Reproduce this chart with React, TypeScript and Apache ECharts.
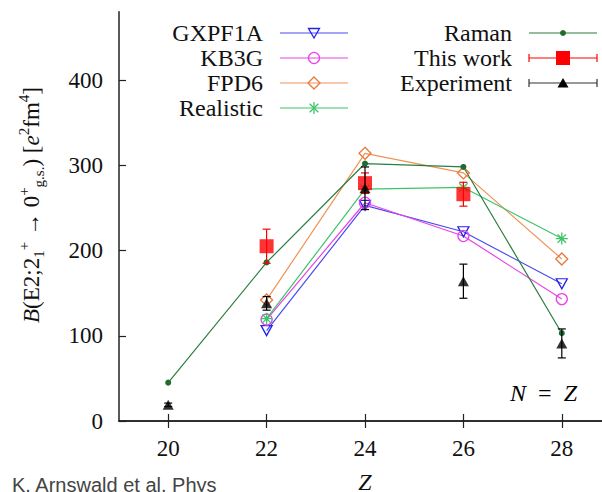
import React, { useEffect, useRef } from "react";
import * as echarts from "echarts";

// Proton number Z of the N = Z nuclei
const zValues = [20, 22, 24, 26, 28];
const xTicks = [20, 22, 24, 26, 28];
const yTicks = [0, 100, 200, 300, 400];

// Shell-model B(E2; 2+ -> 0+) values in e^2 fm^4 (null = not computed)
const gxpf1a = [null, 106, 253, 222, 161];
const kb3g = [null, 119, 256, 217, 143];
const fpd6 = [null, 142, 314, 291, 190];
const realistic = [null, 120, 272, 274, 214];
const raman = [45, 186, 302, 298, 103];

// Measured values with their uncertainties
const thisWorkZ = [22, 24, 26];
const thisWork = [205, 279, 266];
const thisWorkErr = [20, 12, 14];

const experimentZ = [20, 22, 24, 26, 28];
const experiment = [19, 138, 273, 164, 91];
const experimentErr = [2, 8, 25, 20, 17];

const SERIF = "Liberation Serif";
const AXIS = "#222";

const C = {
  gxpf1a: "#4a4af2",
  gxpf1aMark: "#2424e8",
  kb3g: "#e844e8",
  fpd6: "#f0925a",
  fpd6Mark: "#e8783a",
  realistic: "#3cc46a",
  raman: "#2a7d3e",
  ramanMark: "#1d6e2e",
  thisWork: "#ff0000",
  experiment: "#000000",
};

const ASTERISK = "path://M0,-1L0,1M-1,0L1,0M-0.7,-0.7L0.7,0.7M-0.7,0.7L0.7,-0.7";

// Rich-text styles shared by every serif label
const RICH = {
  r: { fontFamily: SERIF, fontSize: 24, color: "#111" },
  t: { fontFamily: SERIF, fontSize: 23, color: "#111" },
  i: { fontFamily: SERIF, fontSize: 24, fontStyle: "italic", color: "#111" },
};

function pairs(xs: number[], ys: (number | null)[]) {
  const out: number[][] = [];
  xs.forEach((x, i) => {
    const y = ys[i];
    if (y !== null && y !== undefined) out.push([x, y]);
  });
  return out;
}

function theory(
  name: string,
  values: (number | null)[],
  lineColor: string,
  markColor: string,
  symbol: string,
  size: number | number[],
  rotate = 0,
  filled = false
) {
  return {
    type: "line",
    name,
    data: pairs(zValues, values),
    symbol,
    symbolSize: size,
    symbolRotate: rotate,
    showAllSymbol: true,
    lineStyle: { color: lineColor, width: 1.2 },
    itemStyle: filled
      ? { color: markColor, borderWidth: 0 }
      : { color: "rgba(0,0,0,0)", borderColor: markColor, borderWidth: 1.3 },
    emphasis: { disabled: true },
    z: 2,
  };
}

function errorBars(name: string, xs: number[], ys: number[], errs: number[], color: string, z: number) {
  return {
    type: "custom",
    name,
    data: xs.map((x, i) => [x, ys[i] - errs[i], ys[i] + errs[i]]),
    encode: { x: 0, y: [1, 2] },
    z,
    renderItem: (params: any, api: any) => {
      const x = api.value(0);
      const lo = api.coord([x, api.value(1)]);
      const hi = api.coord([x, api.value(2)]);
      const cap = 4;
      const style = { stroke: color, lineWidth: 1.2 };
      return {
        type: "group",
        children: [
          { type: "line", shape: { x1: lo[0], y1: lo[1], x2: hi[0], y2: hi[1] }, style },
          { type: "line", shape: { x1: lo[0] - cap, y1: lo[1], x2: lo[0] + cap, y2: lo[1] }, style },
          { type: "line", shape: { x1: hi[0] - cap, y1: hi[1], x2: hi[0] + cap, y2: hi[1] }, style },
        ],
      };
    },
  };
}

const keyText = (text: string, x: number, y: number) => ({
  type: "text",
  x,
  y,
  style: { text: `{r|${text}}`, rich: RICH, fill: "#111", align: "right", verticalAlign: "middle" },
});

// Key drawn as graphic elements: right-aligned labels followed by a sample line and marker
function keyRow(label: string, textRight: number, x0: number, x1: number, y: number, color: string, marker: any[], caps = false) {
  const items: any[] = [
    keyText(label, textRight, y),
    { type: "line", shape: { x1: x0, y1: y, x2: x1, y2: y }, style: { stroke: color, lineWidth: 1.2 } },
  ];
  if (caps) {
    items.push(
      { type: "line", shape: { x1: x0, y1: y - 4, x2: x0, y2: y + 4 }, style: { stroke: color, lineWidth: 1.2 } },
      { type: "line", shape: { x1: x1, y1: y - 4, x2: x1, y2: y + 4 }, style: { stroke: color, lineWidth: 1.2 } }
    );
  }
  return items.concat(marker);
}

function buildKey() {
  const lx0 = 280, lx1 = 348, lm = 314, lt = 263;
  const rx0 = 529, rx1 = 597, rm = 563, rt = 512;
  const rows = [33, 58, 83, 108];
  const hollow = (c: string) => ({ fill: "rgba(0,0,0,0)", stroke: c, lineWidth: 1.3 });
  const els: any[] = [];
  els.push(
    ...keyRow("GXPF1A", lt, lx0, lx1, rows[0], C.gxpf1a, [
      { type: "polygon", shape: { points: [[lm - 5.5, rows[0] - 4.5], [lm + 5.5, rows[0] - 4.5], [lm, rows[0] + 5]] }, style: hollow(C.gxpf1aMark) },
    ]),
    ...keyRow("KB3G", lt, lx0, lx1, rows[1], C.kb3g, [
      { type: "circle", shape: { cx: lm, cy: rows[1], r: 5.5 }, style: hollow(C.kb3g) },
    ]),
    ...keyRow("FPD6", lt, lx0, lx1, rows[2], C.fpd6, [
      { type: "polygon", shape: { points: [[lm, rows[2] - 6], [lm + 6, rows[2]], [lm, rows[2] + 6], [lm - 6, rows[2]]] }, style: hollow(C.fpd6Mark) },
    ]),
    ...keyRow("Realistic", lt, lx0, lx1, rows[3], C.realistic, [
      { type: "line", shape: { x1: lm, y1: rows[3] - 6, x2: lm, y2: rows[3] + 6 }, style: { stroke: C.realistic, lineWidth: 1.3 } },
      { type: "line", shape: { x1: lm - 4.3, y1: rows[3] - 4.3, x2: lm + 4.3, y2: rows[3] + 4.3 }, style: { stroke: C.realistic, lineWidth: 1.3 } },
      { type: "line", shape: { x1: lm - 4.3, y1: rows[3] + 4.3, x2: lm + 4.3, y2: rows[3] - 4.3 }, style: { stroke: C.realistic, lineWidth: 1.3 } },
    ]),
    ...keyRow("Raman", rt, rx0, rx1, rows[0], C.raman, [
      { type: "circle", shape: { cx: rm, cy: rows[0], r: 3 }, style: { fill: C.ramanMark } },
    ]),
    ...keyRow("This work", rt, rx0, rx1, rows[1], C.thisWork, [
      { type: "rect", shape: { x: rm - 7, y: rows[1] - 7, width: 14, height: 14 }, style: { fill: C.thisWork } },
    ], true),
    ...keyRow("Experiment", rt, rx0, rx1, rows[2], "#333", [
      { type: "polygon", shape: { points: [[rm - 5.5, rows[2] + 4.5], [rm + 5.5, rows[2] + 4.5], [rm, rows[2] - 5]] }, style: { fill: C.experiment } },
    ], true)
  );
  return els;
}

export default function App() {
  const ref = useRef<HTMLDivElement>(null);

  useEffect(() => {
    if (!ref.current) return;
    const chart = echarts.init(ref.current, null, { renderer: "svg" });

    const axisLine = { show: true, lineStyle: { color: AXIS, width: 1.5 } };
    const tick = { show: true, inside: true, length: 7, lineStyle: { color: AXIS, width: 1.2 } };
    const xBase = { type: "value", min: 19, max: 29, splitLine: { show: false }, axisLine };
    const yBase = { type: "value", min: 0, max: 480, splitLine: { show: false }, axisLine };
    const tickLabel = (v: number) => `{t|${v}}`;

    chart.setOption({
      animation: false,
      backgroundColor: "#ffffff",
      grid: { left: 119, top: 11.8, width: 492, height: 409.2, containLabel: false, outerBoundsMode: "none" },
      xAxis: [
        {
          ...xBase,
          position: "bottom",
          axisTick: { ...tick, customValues: xTicks },
          axisLabel: { show: true, customValues: xTicks, margin: 16, formatter: tickLabel, rich: RICH },
          name: "{i|Z}",
          nameLocation: "middle",
          nameGap: 49,
          nameTextStyle: { rich: RICH },
        },
        {
          ...xBase,
          position: "top",
          axisTick: { ...tick, customValues: xTicks },
          axisLabel: { show: false },
        },
      ],
      yAxis: [
        {
          ...yBase,
          position: "left",
          axisTick: { ...tick, customValues: yTicks },
          axisLabel: { show: true, customValues: yTicks, margin: 16, formatter: tickLabel, rich: RICH },
        },
        {
          ...yBase,
          position: "right",
          axisTick: { ...tick, customValues: yTicks },
          axisLabel: { show: false },
        },
      ],
      series: [
        theory("GXPF1A", gxpf1a, C.gxpf1a, C.gxpf1aMark, "triangle", [11, 10], 180),
        theory("KB3G", kb3g, C.kb3g, C.kb3g, "circle", 11),
        theory("FPD6", fpd6, C.fpd6, C.fpd6Mark, "diamond", 12),
        theory("Realistic", realistic, C.realistic, C.realistic, ASTERISK, 12),
        theory("Raman", raman, C.raman, C.ramanMark, "circle", 6, 0, true),
        errorBars("This work errors", thisWorkZ, thisWork, thisWorkErr, C.thisWork, 3),
        {
          type: "scatter",
          name: "This work",
          data: pairs(thisWorkZ, thisWork),
          symbol: "rect",
          symbolSize: 14,
          itemStyle: { color: C.thisWork },
          z: 3,
        },
        errorBars("Experiment errors", experimentZ, experiment, experimentErr, C.experiment, 4),
        {
          type: "scatter",
          name: "Experiment",
          data: pairs(experimentZ, experiment),
          symbol: "triangle",
          symbolSize: [11, 10],
          itemStyle: { color: C.experiment },
          z: 4,
        },
      ],
      graphic: [
        ...buildKey(),
        {
          type: "text",
          x: 31,
          y: 205,
          rotation: Math.PI / 2,
          style: {
            text: "{i|B}{m|(E2;2}{sub|1}{sup|+}{m| → 0}{sup|+}{sub|g.s.}{m|) [}{i|e}{sup|2}{m|fm}{sup|4}{m|]}",
            fill: "#111",
            align: "center",
            verticalAlign: "middle",
            rich: {
              m: { fontFamily: SERIF, fontSize: 23, lineHeight: 30, color: "#111" },
              i: { fontFamily: SERIF, fontSize: 23, fontStyle: "italic", lineHeight: 30, color: "#111" },
              sup: { fontFamily: SERIF, fontSize: 15, verticalAlign: "top", lineHeight: 15, color: "#111" },
              sub: { fontFamily: SERIF, fontSize: 15, verticalAlign: "bottom", lineHeight: 15, color: "#111" },
            },
          },
        },
        {
          type: "text",
          x: 577,
          y: 393,
          style: {
            text: "{i|N}{r|  =  }{i|Z}",
            rich: RICH,
            align: "right",
            verticalAlign: "middle",
          },
        },
        {
          type: "text",
          x: 12,
          y: 475,
          style: {
            text: "K. Arnswald et al. Phys",
            fontFamily: "Liberation Sans",
            fontSize: 20,
            fill: "#444",
            align: "left",
            verticalAlign: "top",
          },
        },
      ],
    });

    return () => chart.dispose();
  }, []);

  return <div ref={ref} style={{ position: "absolute", left: 0, top: 0, width: 602, height: 492 }} />;
}
